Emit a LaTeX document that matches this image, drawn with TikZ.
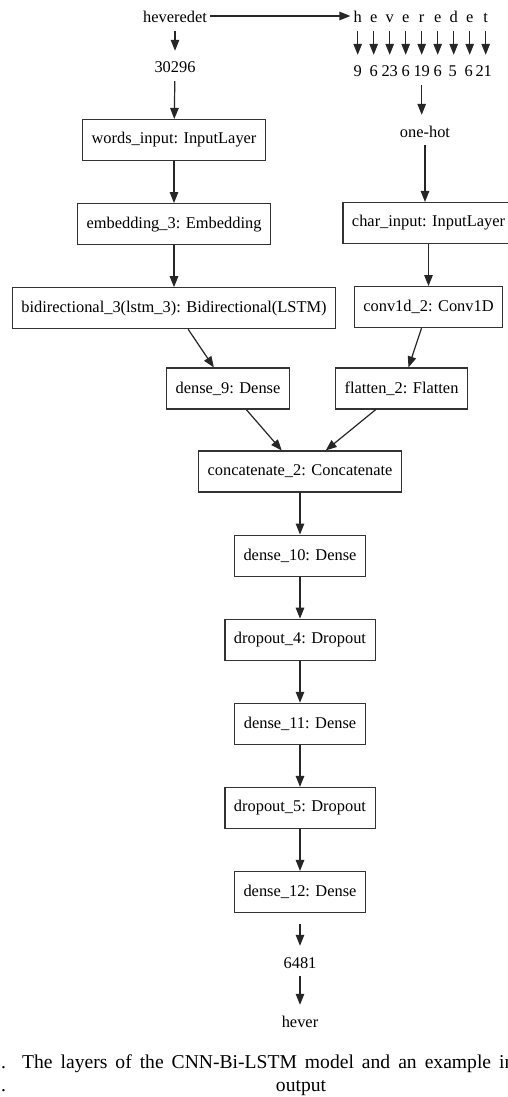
\documentclass[tikz,border=0pt]{standalone}
\usepackage{fontspec}
\setmainfont{Liberation Serif}
\usetikzlibrary{arrows.meta,positioning}
\tikzset{layer/.style={draw=black!80, line width=1.1pt, inner xsep=9pt, inner ysep=0pt, minimum height=41pt, font=\fontsize{16.4}{19}\selectfont}}
\tikzset{txt/.style={inner xsep=3pt, inner ysep=7pt, text height=15pt, text depth=1pt, font=\fontsize{16.4}{19}\selectfont}}
\tikzset{caption/.style={inner sep=0pt, font=\fontsize{19.6}{23}\selectfont}}
\tikzset{flow/.style={-{Triangle[length=11pt,width=8.5pt]}, line width=1.2pt, draw=black!85}}

\begin{document}
\begin{tikzpicture}[x=1pt, y=-1pt, node distance=42pt]
\fill[white] (0,0) rectangle (508,1097);
\useasboundingbox (0,0) rectangle (508,1097);

% Word input
\node (word) [txt] at (175,16) {heveredet};
\node (wordidx) [txt] at (175,66) {30296};
\node (words) [layer] at (174,140) {words\_input: InputLayer};
\node (embed) [layer, below=of words] {embedding\_3: Embedding};
\node (bidir) [layer, below=of embed] {bidirectional\_3(lstm\_3): Bidirectional(LSTM)};

% Character input
\foreach \ch/\num/\dx [count=\i] in {h/9/0,e/6/0,v/23/0,e/6/0,r/19/0,e/6/0,d/5/-1,e/6/-1,t/21/-2} {
  \node (ch\i) [txt] at (341.7+16*\i,16) {\ch};
  \node (num\i) [txt] at (341.7+16*\i+\dx,70) {\num};
  \draw [flow] (ch\i) -- (ch\i |- num\i.north);
}
\node (onehot) [txt] at (425,130) {one-hot};
\node (charin) [layer] at (428.5,223) {char\_input: InputLayer};
\node (conv) [layer, below=of charin] {conv1d\_2: Conv1D};

% Merge
\node (dense9) [layer] at (228,388.5) {dense\_9: Dense};
\node (flatten) [layer] at (401.5,388.5) {flatten\_2: Flatten};
\node (concat) [layer] at (300,471.5) {concatenate\_2: Concatenate};
\node (dense10) [layer, below=of concat] {dense\_10: Dense};
\node (drop4) [layer, below=of dense10] {dropout\_4: Dropout};
\node (dense11) [layer, below=of drop4] {dense\_11: Dense};
\node (drop5) [layer, below=of dense11] {dropout\_5: Dropout};
\node (dense12) [layer, below=of drop5] {dense\_12: Dense};

% Output
\node (outidx) [txt] at (300,961) {6481};
\node (outword) [txt] at (300,1020) {hever};

% Caption
\node (capdot1) [caption, anchor=base west] at (1,1068) {.};
\node (capline1) [caption, anchor=base west] at (22,1068) {\spaceskip=8pt The layers of the CNN-Bi-LSTM model and an example in};
\node (capdot2) [caption, anchor=base west] at (1,1091) {.};
\node (capline2) [caption, anchor=base] at (301,1091) {output};

% Connectors
\draw [flow] (word) -- (ch1);
\draw [flow] (word) -- (wordidx);
\draw [flow] (wordidx) -- (words);
\draw [flow] (words) -- (embed);
\draw [flow] (embed) -- (bidir);
\draw [flow] (num5) -- (num5 |- onehot.north);
\draw [flow] (onehot) -- (onehot |- charin.north);
\draw [flow] (charin) -- (conv);
\draw [flow] (bidir) -- (dense9);
\draw [flow] (conv) -- (flatten);
\draw [flow] (dense9) -- (concat);
\draw [flow] (flatten) -- (concat);
\draw [flow] (concat) -- (dense10);
\draw [flow] (dense10) -- (drop4);
\draw [flow] (drop4) -- (dense11);
\draw [flow] (dense11) -- (drop5);
\draw [flow] (drop5) -- (dense12);
\draw [flow, shorten <=11pt] (dense12) -- (outidx);
\draw [flow] (outidx) -- (outword);

\end{tikzpicture}
\end{document}
